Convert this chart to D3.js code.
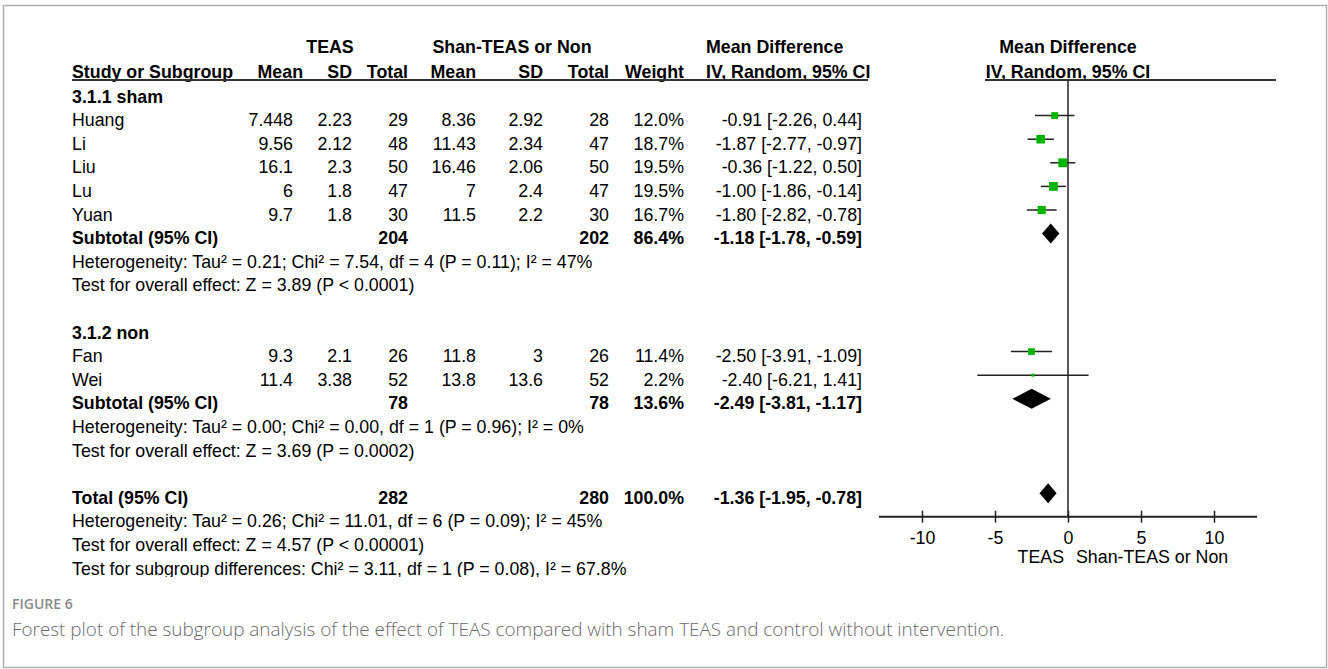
<!DOCTYPE html>
<html><head><meta charset="utf-8">
<script src="https://cdn.jsdelivr.net/npm/d3@7"></script>
<style>
html,body{margin:0;padding:0;background:#fff;}
svg{display:block;}
</style></head>
<body>
<svg id="c" width="1328" height="669"></svg>
<script>
// ---------- data ----------
const studies   = ["Huang","Li","Liu","Lu","Yuan","Fan","Wei"];
const subgroupOf = [0,0,0,0,0,1,1];
const teasMean  = ["7.448","9.56","16.1","6","9.7","9.3","11.4"];
const teasSD    = ["2.23","2.12","2.3","1.8","1.8","2.1","3.38"];
const teasN     = [29,48,50,47,30,26,52];
const ctrlMean  = ["8.36","11.43","16.46","7","11.5","11.8","13.8"];
const ctrlSD    = ["2.92","2.34","2.06","2.4","2.2","3","13.6"];
const ctrlN     = [28,47,50,47,30,26,52];
const weights   = [12.0,18.7,19.5,19.5,16.7,11.4,2.2];
const md        = [-0.91,-1.87,-0.36,-1.00,-1.80,-2.50,-2.40];
const ciLo      = [-2.26,-2.77,-1.22,-1.86,-2.82,-3.91,-6.21];
const ciHi      = [0.44,-0.97,0.50,-0.14,-0.78,-1.09,1.41];

const subgroupNames = ["3.1.1 sham","3.1.2 non"];
const subN1     = [204,78];
const subN2     = [202,78];
const subW      = [86.4,13.6];
const subMD     = [-1.18,-2.49];
const subLo     = [-1.78,-3.81];
const subHi     = [-0.59,-1.17];
const subHet    = ["Heterogeneity: Tau² = 0.21; Chi² = 7.54, df = 4 (P = 0.11); I² = 47%",
                   "Heterogeneity: Tau² = 0.00; Chi² = 0.00, df = 1 (P = 0.96); I² = 0%"];
const subTest   = ["Test for overall effect: Z = 3.89 (P < 0.0001)",
                   "Test for overall effect: Z = 3.69 (P = 0.0002)"];

const totN1 = 282, totN2 = 280, totW = 100.0, totMD = -1.36, totLo = -1.95, totHi = -0.78;
const totFoot = ["Heterogeneity: Tau² = 0.26; Chi² = 11.01, df = 6 (P = 0.09); I² = 45%",
                 "Test for overall effect: Z = 4.57 (P < 0.00001)",
                 "Test for subgroup differences: Chi² = 3.11, df = 1 (P = 0.08), I² = 67.8%"];

const xTicks = [-10,-5,0,5,10];
const xExtent = [-12.95, 12.95];
const favourLeft = "TEAS", favourRight = "Shan-TEAS or Non";
const captionLabel = "FIGURE 6";
const captionText = "Forest plot of the subgroup analysis of the effect of TEAS compared with sham TEAS and control without intervention.";

// ---------- layout ----------
const svg = d3.select("#c");
const FONT = "'Liberation Sans', Arial, sans-serif";
const FS = 17.8;
const fmtCI = (m,l,h) => `${m.toFixed(2)} [${l.toFixed(2)}, ${h.toFixed(2)}]`;

svg.append("rect").attr("x",3.5).attr("y",5.5).attr("width",1323).attr("height",662)
  .attr("fill","none").attr("stroke","#b0b0b0").attr("stroke-width",1.5);

svg.append("defs").append("clipPath").attr("id","clip")
  .append("rect").attr("x",0).attr("y",0).attr("width",1328).attr("height",577);

const g = svg.append("g").attr("clip-path","url(#clip)")
  .style("font-family",FONT).style("font-size",FS+"px").attr("fill","#000");

const rowY = i => 92 + i*23.6;        // marker centre of row i
const baseOff = 10.6;                 // text baseline offset from row centre

const x = d3.scaleLinear().domain([-10,10]).range([922,1214]);
const sq = d3.scaleSqrt().domain([0,19.5]).range([0,8.8]);

// column anchors
const col = {name:72, m1:293, s1:352, n1:408, m2:476, s2:543, n2:609, w:684, ci:862};

function txtAt(xp, baseline, s, anchor, bold){
  return g.append("text").attr("x",xp).attr("y",baseline).attr("text-anchor",anchor||"start")
    .attr("font-weight",bold?"bold":"normal").text(s);
}
function txt(xp, y, s, anchor, bold){ return txtAt(xp, y+baseOff, s, anchor, bold); }

// headers
const h1 = 53.3, h2 = 78.2;
txtAt(330, h1, "TEAS", "middle", true);
txtAt(512, h1, "Shan-TEAS or Non", "middle", true);
txtAt(706, h1, "Mean Difference", "start", true);
txtAt(1068, h1, "Mean Difference", "middle", true);
txtAt(72, h2, "Study or Subgroup", "start", true);
txtAt(303, h2, "Mean", "end", true);
txtAt(352, h2, "SD", "end", true);
txtAt(408, h2, "Total", "end", true);
txtAt(476, h2, "Mean", "end", true);
txtAt(543, h2, "SD", "end", true);
txtAt(609, h2, "Total", "end", true);
txtAt(684, h2, "Weight", "end", true);
txtAt(706, h2, "IV, Random, 95% CI", "start", true);
txtAt(1068, h2, "IV, Random, 95% CI", "middle", true);

const lineY = 80;
g.append("line").attr("x1",72).attr("x2",868).attr("y1",lineY).attr("y2",lineY)
  .attr("stroke","#333").attr("stroke-width",2);
g.append("line").attr("x1",985).attr("x2",1276).attr("y1",lineY).attr("y2",lineY)
  .attr("stroke","#333").attr("stroke-width",2);

// build rows
const rows = [];
subgroupNames.forEach((nm, j) => {
  rows.push({type:"group", j});
  studies.forEach((s,i) => { if (subgroupOf[i]===j) rows.push({type:"study", i}); });
  rows.push({type:"sub", j});
  rows.push({type:"text", s: subHet[j]});
  rows.push({type:"text", s: subTest[j]});
  rows.push({type:"blank"});
});
rows.push({type:"total"});
totFoot.forEach(s => rows.push({type:"text", s}));

const axisY = 516.7;

// zero line
g.append("line").attr("x1",x(0)).attr("x2",x(0)).attr("y1",lineY).attr("y2",axisY)
  .attr("stroke","#222").attr("stroke-width",1.5);

function diamond(y, m, l, h){
  const p = d3.path();
  p.moveTo(x(l), y); p.lineTo(x(m), y-10); p.lineTo(x(h), y); p.lineTo(x(m), y+10); p.closePath();
  g.append("path").attr("d", p.toString()).attr("fill","#000");
}

rows.forEach((r, k) => {
  const y = rowY(k);
  if (r.type==="group") txt(col.name, y, subgroupNames[r.j], "start", true);
  else if (r.type==="study"){
    const i = r.i;
    txt(col.name, y, studies[i]);
    txt(col.m1, y, teasMean[i], "end");
    txt(col.s1, y, teasSD[i], "end");
    txt(col.n1, y, teasN[i], "end");
    txt(col.m2, y, ctrlMean[i], "end");
    txt(col.s2, y, ctrlSD[i], "end");
    txt(col.n2, y, ctrlN[i], "end");
    txt(col.w, y, weights[i].toFixed(1)+"%", "end");
    txt(col.ci, y, fmtCI(md[i],ciLo[i],ciHi[i]), "end");
    g.append("line").attr("x1",x(ciLo[i])).attr("x2",x(ciHi[i])).attr("y1",y).attr("y2",y)
      .attr("stroke","#222").attr("stroke-width",1.5);
    const s = sq(weights[i]);
    g.append("rect").attr("x",x(md[i])-s/2).attr("y",y-s/2).attr("width",s).attr("height",s)
      .attr("fill","#00b400");
  }
  else if (r.type==="sub"){
    const j = r.j;
    txt(col.name, y, "Subtotal (95% CI)", "start", true);
    txt(col.n1, y, subN1[j], "end", true);
    txt(col.n2, y, subN2[j], "end", true);
    txt(col.w, y, subW[j].toFixed(1)+"%", "end", true);
    txt(col.ci, y, fmtCI(subMD[j],subLo[j],subHi[j]), "end", true);
    diamond(y, subMD[j], subLo[j], subHi[j]);
  }
  else if (r.type==="total"){
    txt(col.name, y, "Total (95% CI)", "start", true);
    txt(col.n1, y, totN1, "end", true);
    txt(col.n2, y, totN2, "end", true);
    txt(col.w, y, totW.toFixed(1)+"%", "end", true);
    txt(col.ci, y, fmtCI(totMD,totLo,totHi), "end", true);
    diamond(y, totMD, totLo, totHi);
  }
  else if (r.type==="text") txt(col.name, y, r.s);
});

// axis
const ax = g.append("g").attr("transform",`translate(0,${axisY})`)
  .call(d3.axisBottom(x).tickValues(xTicks).tickSize(6).tickFormat(d => String(d)));
ax.select(".domain").remove();
ax.selectAll(".tick line").attr("y1",-6).attr("y2",6).attr("stroke","#222").attr("stroke-width",1.5);
ax.selectAll(".tick text").style("font-family",FONT).style("font-size",FS+"px").attr("fill","#000")
  .attr("y",27).attr("dy",null);
ax.append("line").attr("x1",x(xExtent[0])).attr("x2",x(xExtent[1])).attr("y1",0).attr("y2",0)
  .attr("stroke","#222").attr("stroke-width",2);
g.append("text").attr("x",x(0)-4).attr("y",axisY+46.5).attr("text-anchor","end").text(favourLeft);
g.append("text").attr("x",x(0)+8).attr("y",axisY+46.5).attr("text-anchor","start").text(favourRight);

// caption
svg.append("text").attr("x",12).attr("y",608.5).style("font-family","'Open Sans', sans-serif")
  .style("font-size","14px").style("font-weight",600).attr("fill","#8a8a8a").text(captionLabel);
svg.append("text").attr("x",12).attr("y",635.5).style("font-family","'Open Sans', sans-serif")
  .style("font-size","18.9px").style("font-weight",300).attr("fill","#6a6a6a").text(captionText);
</script>
</body></html>
